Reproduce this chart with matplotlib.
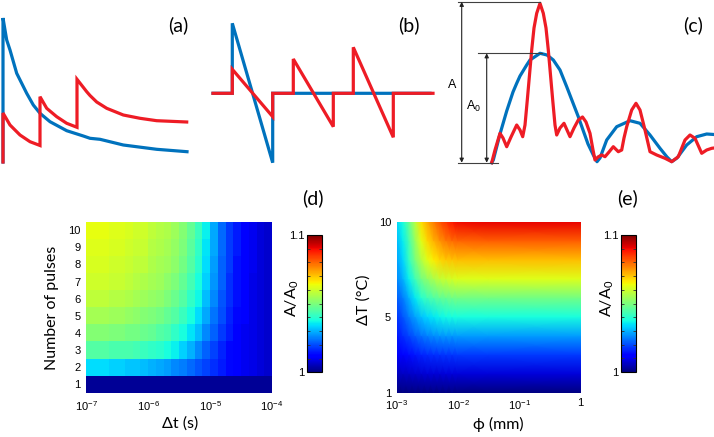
import numpy as np
import matplotlib
matplotlib.use("Agg")
import matplotlib.pyplot as plt
from matplotlib.ticker import FixedLocator, NullLocator

plt.rcParams['font.family'] = ['Liberation Sans', 'DejaVu Sans']
plt.rcParams['mathtext.fontset'] = 'custom'
plt.rcParams['mathtext.rm'] = 'Liberation Sans'
plt.rcParams['mathtext.it'] = 'Liberation Sans:italic'
LABEL_FONT = ['Lato', 'DejaVu Sans']

# ---------------- data ----------------
# (a) single pulse (blue) vs. three pulses (red): time, amplitude
a_blue_t = [0, 0, 2, 3.7, 7, 13.7, 23.7, 30.3, 37, 47, 63.7, 80.3, 87, 97, 120.3, 153.7, 184]
a_blue_y = [0, 144, 132, 122, 112, 88.7, 68.7, 57, 48.7, 40.3, 31.3, 26, 23.7, 22.7, 17, 12.7, 10.3]
a_red_t = [0, 0, 7, 17, 27, 37, 37, 43.7, 53.7, 63.7, 74, 74, 83.7, 87, 93.7, 103.7, 120.3, 137, 153.7, 183.7]
a_red_y = [0, 49, 37, 27, 20.3, 16.5, 65.3, 53.7, 45.3, 38.7, 34.7, 82.7, 70.3, 66.5, 60, 53.7, 47, 43.7, 41.3, 40]

# (b) bipolar pulses
b_blue_t = [0, 19.3, 19.3, 59.7, 59.7, 217]
b_blue_y = [0, 0, 70, -69.4, 0, 0]
b_red_t = [0, 19.3, 19.3, 59.7, 59.7, 80.3, 80.3, 120.3, 120.3, 140.3, 140.3, 180.3, 180.3, 220]
b_red_y = [0, 0, 24, -23.4, 0, 0, 34.3, -33.4, 0, 0, 46, -44, 0, 0]

# (c) spectra
c_blue_t = [0, 1.6, 8.3, 15, 21.3, 25, 28.3, 35, 38.3, 48.3, 55.3, 61.6, 68.3, 75, 81.3, 86.6,
            91.3, 96.3, 101.6, 105.3, 108.3, 115, 125, 138.3, 148.3, 158.3, 168.3, 175.3, 180,
            185.3, 195, 205, 215, 222.3]
c_blue_y = [0, 2.7, 28.7, 51.7, 70.7, 79.4, 86.7, 97.7, 102.7, 109.4, 107.7, 102.7, 92.7, 76,
            59.7, 46, 32.7, 18.7, 7.7, 1, 4.7, 22.7, 36, 42, 39.4, 27.7, 14.4, 5.7, 1,
            4.7, 17.7, 26, 28.7, 28.2]
c_red_t = [0, 3.3, 8.3, 11.3, 15, 19.3, 25, 28.3, 31, 33.3, 35.6, 37.8, 40, 42.3, 45, 48.3,
           51.6, 54.3, 56.6, 58.8, 61, 63.3, 65, 68.3, 72.3, 75.3, 78.3, 82.3, 86.6, 90.8,
           94.3, 98.3, 101.3, 103.3, 106.3, 110, 113.3, 117.3, 121.6, 126.6, 130, 132.3, 135,
           140, 144.3, 148.3, 153.3, 158.3, 165, 173.3, 180, 186.6, 193.3, 198.3, 203.3, 210,
           215, 220, 222.3]
c_red_y = [0, 12.7, 29.4, 24.7, 16, 25.7, 37.7, 32.7, 26, 37.7, 62.7, 87.7, 112.7, 134.7, 149.4, 159.4,
           149.4, 134.7, 112.7, 87.7, 62.7, 37.7, 27.7, 34.7, 39.4, 32.7, 26, 34.7, 42.7, 45.7,
           40.7, 29.4, 12.7, 2.7, 5.7, 7.7, 6, 10.7, 16, 11, 12.7, 24.7, 36,
           52.7, 59.4, 52.7, 32.7, 11, 7.7, 4.4, 1, 6, 22.7, 27.7, 24.4, 9.4,
           12.7, 14.4, 14.7]

# (d) A/A0 vs number of pulses (rows) and pulse interval (24 log cells, 1e-7..1e-4 s)
pulses = [1, 2, 3, 4, 5, 6, 7, 8, 9, 10]
ratio_d = [
    [1.002] * 24,
    [1.034, 1.034, 1.034, 1.033, 1.033, 1.032, 1.032, 1.031, 1.030, 1.029, 1.028, 1.026,
     1.025, 1.023, 1.021, 1.019, 1.017, 1.015, 1.013, 1.011, 1.010, 1.009, 1.008, 1.007],
    [1.045, 1.045, 1.045, 1.044, 1.044, 1.044, 1.043, 1.042, 1.041, 1.040, 1.038, 1.036,
     1.033, 1.030, 1.026, 1.022, 1.019, 1.016, 1.013, 1.011, 1.010, 1.009, 1.008, 1.007],
    [1.051, 1.051, 1.051, 1.050, 1.050, 1.049, 1.049, 1.048, 1.047, 1.045, 1.044, 1.041,
     1.038, 1.035, 1.031, 1.026, 1.022, 1.018, 1.015, 1.012, 1.010, 1.009, 1.008, 1.007],
    [1.055, 1.055, 1.055, 1.054, 1.054, 1.053, 1.052, 1.051, 1.050, 1.049, 1.047, 1.045,
     1.042, 1.038, 1.034, 1.029, 1.024, 1.020, 1.016, 1.013, 1.011, 1.009, 1.008, 1.007],
    [1.058, 1.058, 1.058, 1.057, 1.057, 1.056, 1.055, 1.054, 1.053, 1.052, 1.050, 1.048,
     1.045, 1.041, 1.037, 1.031, 1.026, 1.021, 1.017, 1.014, 1.011, 1.009, 1.008, 1.007],
    [1.060, 1.060, 1.060, 1.059, 1.059, 1.058, 1.057, 1.056, 1.055, 1.054, 1.052, 1.050,
     1.047, 1.043, 1.038, 1.033, 1.027, 1.022, 1.017, 1.014, 1.011, 1.009, 1.008, 1.007],
    [1.061, 1.061, 1.061, 1.060, 1.060, 1.059, 1.058, 1.058, 1.056, 1.055, 1.054, 1.052,
     1.049, 1.045, 1.040, 1.034, 1.028, 1.022, 1.018, 1.014, 1.012, 1.010, 1.008, 1.007],
    [1.062, 1.062, 1.062, 1.061, 1.061, 1.060, 1.059, 1.059, 1.057, 1.056, 1.055, 1.053,
     1.050, 1.046, 1.041, 1.035, 1.029, 1.023, 1.018, 1.015, 1.012, 1.010, 1.008, 1.007],
    [1.063, 1.063, 1.063, 1.062, 1.062, 1.061, 1.060, 1.060, 1.058, 1.057, 1.056, 1.054,
     1.051, 1.047, 1.042, 1.036, 1.029, 1.023, 1.018, 1.015, 1.012, 1.010, 1.008, 1.007],
]

# (e) A/A0 vs particle size phi (log10 mm) and temperature rise dT
phi_exp = [-3.0, -2.9, -2.8, -2.7, -2.6, -2.5, -2.4, -2.3, -2.2, -2.1, -2.0, -1.5, 0.0]
delta_T = [1, 2, 3, 4, 5, 6, 7, 8, 9, 10]
ratio_e = [
    [1.0000] * 13,
    [1.0056, 1.0061, 1.0066, 1.0070, 1.0073, 1.0075, 1.0077, 1.0078, 1.0079, 1.0080, 1.0080, 1.0080, 1.0080],
    [1.0108, 1.0121, 1.0135, 1.0148, 1.0158, 1.0166, 1.0171, 1.0175, 1.0177, 1.0179, 1.0180, 1.0180, 1.0180],
    [1.0146, 1.0168, 1.0193, 1.0218, 1.0238, 1.0252, 1.0263, 1.0272, 1.0274, 1.0277, 1.0280, 1.0280, 1.0280],
    [1.0179, 1.0209, 1.0247, 1.0285, 1.0315, 1.0338, 1.0353, 1.0365, 1.0372, 1.0376, 1.0380, 1.0380, 1.0380],
    [1.0216, 1.0250, 1.0299, 1.0353, 1.0397, 1.0426, 1.0446, 1.0466, 1.0475, 1.0485, 1.0490, 1.0490, 1.0490],
    [1.0260, 1.0298, 1.0360, 1.0428, 1.0490, 1.0527, 1.0558, 1.0583, 1.0595, 1.0608, 1.0617, 1.0620, 1.0620],
    [1.0284, 1.0334, 1.0412, 1.0497, 1.0568, 1.0625, 1.0660, 1.0682, 1.0696, 1.0703, 1.0710, 1.0710, 1.0710],
    [1.0308, 1.0356, 1.0437, 1.0535, 1.0624, 1.0680, 1.0721, 1.0753, 1.0778, 1.0794, 1.0802, 1.0810, 1.0810],
    [1.0337, 1.0382, 1.0473, 1.0573, 1.0673, 1.0728, 1.0774, 1.0819, 1.0855, 1.0883, 1.0901, 1.0910, 1.0910],
]

BLUE = '#0072BD'
RED = '#EE1C25'

# ---------------- layout helpers ----------------
W, H = 714, 437
fig = plt.figure(figsize=(W / 100, H / 100), dpi=100)
fig.patch.set_facecolor('white')


def rect(x0, y0, x1, y1):
    return [x0 / W, 1 - y1 / H, (x1 - x0) / W, (y1 - y0) / H]


def ftext(x, y, s, **kw):
    fig.text(x / W, 1 - y / H, s, **kw)


# ---------------- (a) ----------------
ax = fig.add_axes(rect(0, 0, 190, 170))
ax.plot(a_blue_t, a_blue_y, color=BLUE, lw=2.3, clip_on=False, solid_joinstyle='miter')
ax.plot(a_red_t, a_red_y, color=RED, lw=2.3, clip_on=False, solid_joinstyle='miter')
ax.set_xlim(-3, 187)
ax.set_ylim(-8, 162)
ax.axis('off')

# ---------------- (b) ----------------
ax = fig.add_axes(rect(200, 0, 440, 170))
ax.plot(b_blue_t, b_blue_y, color=BLUE, lw=2.3, clip_on=False, solid_joinstyle='miter')
ax.plot(b_red_t, b_red_y, color=RED, lw=2.3, clip_on=False, solid_joinstyle='miter')
ax.set_xlim(-13, 227)
ax.set_ylim(-76.7, 93.3)
ax.axis('off')

# ---------------- (c) ----------------
ax = fig.add_axes(rect(440, 0, 714, 170))
ax.plot(c_blue_t, c_blue_y, color=BLUE, lw=2.3, clip_on=False)
ax.plot(c_red_t, c_red_y, color=RED, lw=2.3, clip_on=False)
A = max(c_red_y) + 1.5
A0 = max(c_blue_y)
gray = '#404040'
ax.plot([-33.7, 6.6], [0, 0], color=gray, lw=0.8, clip_on=False)
ax.plot([-33.4, 48.3], [A, A], color=gray, lw=0.8, clip_on=False)
ax.plot([-13.4, 50], [A0, A0], color=gray, lw=0.8, clip_on=False)
ax.annotate('', xy=(-30, A), xytext=(-30, 0),
            arrowprops=dict(arrowstyle='<|-|>', lw=0.8, color='#222222', mutation_scale=6,
                            shrinkA=0, shrinkB=0), annotation_clip=False)
ax.annotate('', xy=(-5, A0), xytext=(-5, 0),
            arrowprops=dict(arrowstyle='<|-|>', lw=0.8, color='#222222', mutation_scale=6,
                            shrinkA=0, shrinkB=0), annotation_clip=False)
ax.text(-40, A * 0.48, 'A', fontsize=9, ha='center', va='center')
ax.text(-18.4, 56, 'A$_\\mathregular{0}$', fontsize=9, ha='center', va='center')
ax.set_xlim(-51.7, 222.3)
ax.set_ylim(-7.3, 162.7)
ax.axis('off')

for lab, x in [('(a)', 178), ('(b)', 409), ('(c)', 693)]:
    ftext(x, 25, lab, fontsize=14, ha='center', va='center', family=LABEL_FONT)
ftext(313, 198, '(d)', fontsize=14, ha='center', va='center', family=LABEL_FONT)
ftext(627, 198, '(e)', fontsize=14, ha='center', va='center', family=LABEL_FONT)

cmap = plt.get_cmap('jet')


def style_colorbar(cb):
    cb.set_ticks([1.0, 1.1])
    cb.set_ticklabels(['1', '1.1'])
    cax = cb.ax
    cax.yaxis.set_ticks_position('left')
    cax.yaxis.set_minor_locator(FixedLocator(np.round(np.arange(1.01, 1.095, 0.01), 3)))
    cax.tick_params(which='major', direction='in', length=0, pad=2, labelsize=8,
                    left=True, right=False, labelleft=True, labelright=False)
    cax.tick_params(which='minor', direction='in', length=2.5, width=0.6, color='#333333',
                    left=True, right=True)
    cb.outline.set_linewidth(0.8)


# ---------------- (d) ----------------
ax = fig.add_axes(rect(86, 221.7, 272, 392.7))
x_edges = np.logspace(-7, -4, len(ratio_d[0]) + 1)
y_edges = np.arange(len(pulses) + 1) + 0.5
mesh_d = ax.pcolormesh(x_edges, y_edges, np.array(ratio_d), cmap=cmap, vmin=1.0, vmax=1.1)
ax.set_xscale('log')
ax.set_xlim(1e-7, 1e-4)
ax.set_ylim(0.5, 10.5)
ax.set_xticks([1e-7, 1e-6, 1e-5, 1e-4])
ax.xaxis.set_minor_locator(NullLocator())
ax.set_yticks(pulses)
ax.tick_params(length=0, labelsize=8)
ax.tick_params(axis='x', pad=5)
ax.tick_params(axis='y', pad=4)
for s in ax.spines.values():
    s.set_visible(False)
cax = fig.add_axes(rect(307, 235, 322.3, 372.3))
style_colorbar(fig.colorbar(mesh_d, cax=cax))
ftext(52, 308, 'Number of pulses', fontsize=11.5, rotation=90, ha='center', va='center', family=LABEL_FONT)
ftext(180, 424, 'Δt (s)', fontsize=11.5, ha='center', va='center', family=LABEL_FONT)
ftext(292, 298, 'A/A$_\\mathregular{0}$', fontsize=11.5, rotation=90, ha='center', va='center', family=LABEL_FONT)

# ---------------- (e) ----------------
ax = fig.add_axes(rect(396.7, 221.7, 580.7, 392.7))
phi_vals = 10.0 ** np.array(phi_exp)
mesh_e = ax.pcolormesh(phi_vals, delta_T, np.array(ratio_e), cmap=cmap, vmin=1.0, vmax=1.1,
                       shading='gouraud')
ax.set_xscale('log')
ax.set_xlim(1e-3, 1)
ax.set_ylim(1, 10)
ax.set_xticks([1e-3, 1e-2, 1e-1, 1])
ax.set_xticklabels(['$\\mathregular{10^{-3}}$', '$\\mathregular{10^{-2}}$',
                    '$\\mathregular{10^{-1}}$', '1'])
ax.xaxis.set_minor_locator(NullLocator())
ax.set_yticks([1, 5, 10])
ax.tick_params(length=0, labelsize=8)
ax.tick_params(axis='x', pad=4)
ax.tick_params(axis='y', pad=4)
for s in ax.spines.values():
    s.set_visible(False)
cax = fig.add_axes(rect(621, 235, 635.7, 372))
style_colorbar(fig.colorbar(mesh_e, cax=cax))
ftext(364, 300, 'ΔT (°C)', fontsize=11.5, rotation=90, ha='center', va='center', family=LABEL_FONT)
ftext(498, 424, 'ϕ (mm)', fontsize=11.5, ha='center', va='center', family=LABEL_FONT)
ftext(607, 298, 'A/A$_\\mathregular{0}$', fontsize=11.5, rotation=90, ha='center', va='center', family=LABEL_FONT)

fig.savefig('out.png', dpi=100, facecolor='white')
